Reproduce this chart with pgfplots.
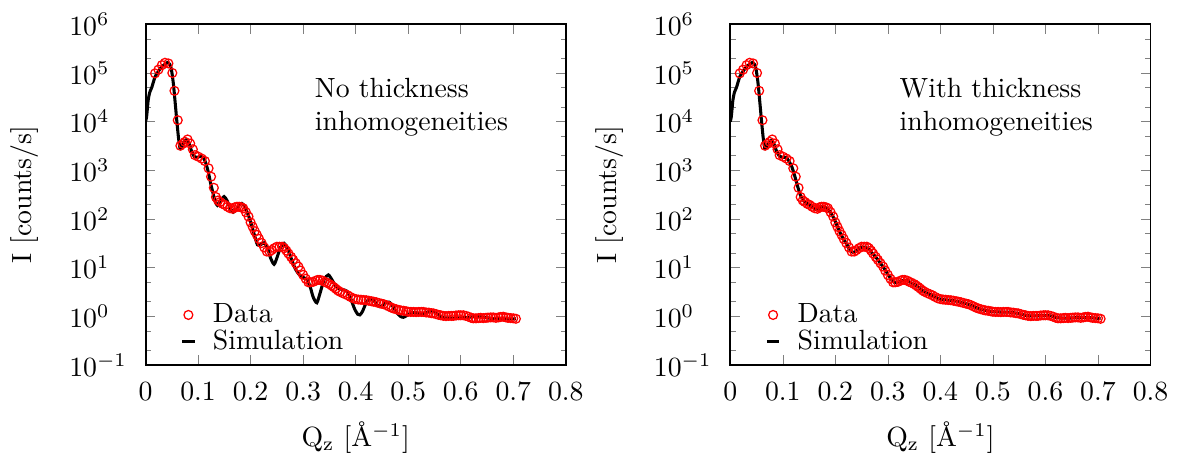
\documentclass[border=0pt]{standalone}
\usepackage{pgfplots}
\usepackage{pgfplotstable}
\pgfplotsset{compat=1.18}

% measured data, same in both panels: Q_z [1/A]  I [counts/s]
\pgfplotstableread{
q I
0.018 9.8e4
0.0245 1.17e5
0.031 1.45e5
0.037 1.62e5
0.0435 1.57e5
0.051 1.0e5
0.055 4.3e4
0.0613 1.07e4
0.0663 3.2e3
0.071 3.5e3
0.075 3.85e3
0.080 4.3e3
0.085 3.55e3
0.090 2.7e3
0.094 2.05e3
0.1006 1.9e3
0.107 1.74e3
0.113 1.55e3
0.120 1.1e3
0.1247 740
0.130 437
0.134 282
0.138 240
0.142 224
0.147 204
0.151 195
0.156 178
0.161 166
0.166 162
0.170 174
0.174 178
0.178 178
0.182 174
0.186 166
0.191 138
0.196 112
0.200 85
0.204 69
0.208 56
0.212 47
0.216 39
0.221 32
0.226 26
0.231 21.4
0.236 21.4
0.240 22.9
0.245 25.1
0.250 26.9
0.255 26.9
0.260 26.9
0.264 25.1
0.268 22.4
0.272 19.5
0.277 16.6
0.281 14.5
0.286 12.3
0.291 10.5
0.295 8.7
0.300 7.1
0.305 5.9
0.310 5.0
0.314 5.0
0.319 5.1
0.324 5.4
0.328 5.6
0.332 5.6
0.337 5.4
0.341 5.1
0.345 4.9
0.350 4.6
0.354 4.3
0.358 4.0
0.362 3.7
0.366 3.4
0.370 3.2
0.375 3.0
0.380 2.85
0.385 2.7
0.390 2.5
0.395 2.35
0.400 2.26
0.405 2.21
0.410 2.19
0.415 2.16
0.420 2.14
0.425 2.09
0.430 2.04
0.434 2.0
0.439 1.95
0.444 1.88
0.449 1.82
0.453 1.78
0.458 1.70
0.463 1.60
0.468 1.51
0.472 1.45
0.477 1.40
0.482 1.35
0.486 1.32
0.491 1.30
0.496 1.27
0.500 1.24
0.505 1.23
0.510 1.23
0.515 1.22
0.520 1.23
0.525 1.23
0.529 1.23
0.534 1.20
0.539 1.19
0.544 1.16
0.548 1.15
0.553 1.11
0.558 1.07
0.562 1.05
0.567 1.02
0.572 1.01
0.577 1.02
0.582 1.02
0.586 1.02
0.591 1.04
0.596 1.05
0.600 1.05
0.605 1.05
0.610 1.02
0.615 0.98
0.620 0.93
0.624 0.91
0.629 0.91
0.634 0.92
0.638 0.93
0.643 0.92
0.648 0.93
0.652 0.94
0.657 0.95
0.662 0.95
0.667 0.93
0.672 0.95
0.676 0.97
0.681 0.98
0.686 0.95
0.690 0.93
0.695 0.92
0.700 0.91
0.705 0.89
}\data

% simulation without thickness inhomogeneities
\pgfplotstableread{
q I
0.000 1.0e4
0.002 1.26e4
0.005 2.75e4
0.008 4.0e4
0.012 5.1e4
0.018 8.3e4
0.023 1.02e5
0.028 1.23e5
0.033 1.41e5
0.037 1.51e5
0.041 1.62e5
0.0434 1.62e5
0.046 1.51e5
0.048 1.35e5
0.050 1.05e5
0.053 6.0e4
0.056 2.75e4
0.0594 1.07e4
0.0625 4.9e3
0.0657 2.8e3
0.069 3.0e3
0.073 3.85e3
0.078 4.27e3
0.083 3.55e3
0.088 2.4e3
0.093 1.9e3
0.0987 1.84e3
0.105 1.95e3
0.110 1.82e3
0.115 1.38e3
0.120 870
0.124 537
0.128 355
0.132 240
0.137 190
0.143 240
0.1494 288
0.155 240
0.161 166
0.167 138
0.173 158
0.178 195
0.183 209
0.188 186
0.193 141
0.199 95
0.206 52
0.213 29.5
0.219 29.5
0.2256 32.4
0.232 25.7
0.238 15.8
0.2446 11.7
0.250 15.8
0.257 26.3
0.2637 31.6
0.270 25.1
0.278 14.8
0.285 9.5
0.293 7.1
0.300 6.3
0.307 5.75
0.313 4.2
0.319 2.5
0.326 1.9
0.333 3.2
0.340 5.75
0.348 7.1
0.355 5.6
0.361 4.3
0.367 3.76
0.375 3.55
0.383 3.3
0.390 2.4
0.398 1.41
0.404 1.10
0.408 1.07
0.413 1.26
0.420 1.9
0.427 2.34
0.435 2.09
0.441 1.70
0.446 1.58
0.452 1.70
0.458 1.90
0.464 1.95
0.470 1.66
0.478 1.20
0.485 1.0
0.491 0.955
0.498 1.05
0.505 1.17
0.512 1.20
0.520 1.15
0.527 1.12
0.535 1.20
0.545 1.29
0.553 1.17
0.562 1.0
0.570 0.93
0.585 0.92
0.600 0.93
0.615 0.955
0.630 1.0
0.645 0.955
0.660 0.90
0.680 0.89
0.705 0.89
}\simno

% simulation with thickness inhomogeneities
\pgfplotstableread{
q I
0.000 1.0e4
0.002 1.26e4
0.005 2.75e4
0.008 4.0e4
0.012 5.1e4
0.018 8.3e4
0.023 1.02e5
0.028 1.23e5
0.033 1.41e5
0.037 1.51e5
0.041 1.62e5
0.0434 1.62e5
0.046 1.51e5
0.048 1.35e5
0.050 1.05e5
0.053 6.0e4
0.056 2.75e4
0.0594 1.07e4
0.0625 4.9e3
0.0657 2.8e3
0.069 3.0e3
0.073 3.7e3
0.078 4.1e3
0.083 3.5e3
0.088 2.5e3
0.093 2.0e3
0.099 1.85e3
0.105 1.85e3
0.110 1.65e3
0.117 1.2e3
0.123 750
0.129 440
0.134 300
0.140 235
0.146 210
0.152 190
0.158 170
0.163 158
0.168 162
0.174 178
0.180 175
0.186 160
0.192 130
0.198 100
0.204 70
0.210 50
0.216 38
0.222 30
0.228 23
0.234 20.5
0.240 22
0.246 25
0.252 26.5
0.258 26
0.264 24
0.270 20
0.276 17
0.282 14
0.288 11.5
0.294 9.3
0.300 7.3
0.306 5.9
0.312 5.0
0.318 5.0
0.324 5.3
0.330 5.5
0.336 5.4
0.342 5.0
0.348 4.7
0.354 4.3
0.360 3.85
0.366 3.4
0.372 3.1
0.378 2.9
0.384 2.7
0.390 2.5
0.396 2.33
0.402 2.23
0.410 2.18
0.420 2.12
0.430 2.05
0.440 1.93
0.450 1.80
0.458 1.70
0.466 1.56
0.474 1.43
0.482 1.35
0.490 1.30
0.500 1.25
0.510 1.23
0.520 1.22
0.530 1.22
0.540 1.18
0.550 1.13
0.560 1.06
0.570 1.02
0.580 1.02
0.590 1.03
0.600 1.04
0.610 1.02
0.620 0.95
0.630 0.92
0.645 0.92
0.660 0.94
0.675 0.95
0.690 0.93
0.705 0.90
}\simwith

\begin{document}
\begin{tikzpicture}
\begin{axis}[
  at={(0pt,0pt)}, anchor=south west,
  scale only axis,
  width=151.3pt, height=122.65pt,
  xmin=0, xmax=0.8,
  ymode=log, ymin=1e-1, ymax=1e6,
  xtick={0,0.1,0.2,0.3,0.4,0.5,0.6,0.7,0.8},
  xticklabels={0,0.1,0.2,0.3,0.4,0.5,0.6,0.7,0.8},
  ytick={1e-1,1e0,1e1,1e2,1e3,1e4,1e5,1e6},
  minor ytick={0.2,0.5,2,5,20,50,200,500,2e3,5e3,2e4,5e4,2e5,5e5},
  major tick length=3.5pt, minor tick length=1.9pt,
  axis line style={line width=0.7pt},
  yticklabel style={anchor=west, xshift=-31pt},
  xticklabel style={yshift=-2.5pt},
  xlabel={Q$_\mathrm{z}$ [\AA$^{-1}$]},
  ylabel={I [counts/s]},
  xlabel style={at={(rel axis cs:0.5,0)}, anchor=center, yshift=-26pt},
  ylabel style={at={(rel axis cs:0,0.5)}, anchor=center, yshift=43.4pt},
  legend cell align=left,
  legend style={at={(rel axis cs:0,0)}, anchor=south west, xshift=9.4pt,
    draw=none, fill=none, row sep=-2.9pt, column sep=4pt},
]
\addplot[only marks, mark=o, mark size=1.6pt, red, line width=0.45pt]
  table[x=q, y=I] {\data};
\addlegendentry{Data}
\addplot[black, line width=1.1pt, smooth, tension=0.4,
  legend image code/.code={\draw[black, line width=1.1pt] (0.22cm,0cm) -- (0.38cm,0cm);}]
  table[x=q, y=I] {\simno};
\addlegendentry{Simulation}
\node[anchor=north west, align=left, inner sep=0pt] at (rel axis cs:0.4017,0.843)
  {No thickness\\inhomogeneities};
\end{axis}
\begin{axis}[
  at={(210.5pt,0pt)}, anchor=south west,
  scale only axis,
  width=151.3pt, height=122.65pt,
  xmin=0, xmax=0.8,
  ymode=log, ymin=1e-1, ymax=1e6,
  xtick={0,0.1,0.2,0.3,0.4,0.5,0.6,0.7,0.8},
  xticklabels={0,0.1,0.2,0.3,0.4,0.5,0.6,0.7,0.8},
  ytick={1e-1,1e0,1e1,1e2,1e3,1e4,1e5,1e6},
  minor ytick={0.2,0.5,2,5,20,50,200,500,2e3,5e3,2e4,5e4,2e5,5e5},
  major tick length=3.5pt, minor tick length=1.9pt,
  axis line style={line width=0.7pt},
  yticklabel style={anchor=west, xshift=-31pt},
  xticklabel style={yshift=-2.5pt},
  xlabel={Q$_\mathrm{z}$ [\AA$^{-1}$]},
  ylabel={I [counts/s]},
  xlabel style={at={(rel axis cs:0.5,0)}, anchor=center, yshift=-26pt},
  ylabel style={at={(rel axis cs:0,0.5)}, anchor=center, yshift=43.4pt},
  legend cell align=left,
  legend style={at={(rel axis cs:0,0)}, anchor=south west, xshift=9.4pt,
    draw=none, fill=none, row sep=-2.9pt, column sep=4pt},
]
\addplot[only marks, mark=o, mark size=1.6pt, red, line width=0.45pt]
  table[x=q, y=I] {\data};
\addlegendentry{Data}
\addplot[black, line width=1.1pt, smooth, tension=0.4,
  legend image code/.code={\draw[black, line width=1.1pt] (0.22cm,0cm) -- (0.38cm,0cm);}]
  table[x=q, y=I] {\simwith};
\addlegendentry{Simulation}
\node[anchor=north west, align=left, inner sep=0pt] at (rel axis cs:0.402,0.843)
  {With thickness\\inhomogeneities};
\end{axis}
\path (-52.4pt,-32pt) rectangle (375.3pt,131.4pt);
\end{tikzpicture}
\end{document}
